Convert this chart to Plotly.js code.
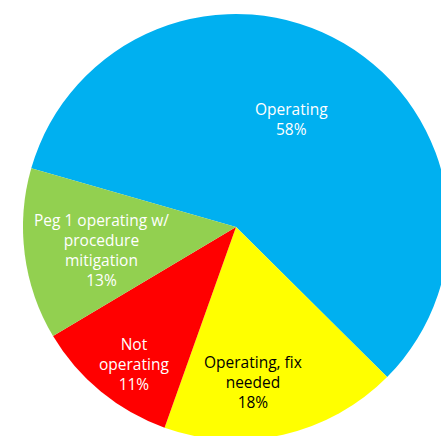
<!DOCTYPE html>
<html>
<head>
<meta charset="utf-8">
<script src="https://cdn.plot.ly/plotly-3.0.1.min.js"></script>
<style>
html,body{margin:0;padding:0;overflow:hidden;background:#fff;}
#chart{width:449px;height:440px;}
</style>
</head>
<body>
<div id="chart"></div>
<script>
const labels = ["Operating", "Operating, fix needed", "Not operating", "Peg 1 operating w/ procedure mitigation"];
const displayLabels = ["Operating", "Operating, fix<br>needed", "Not<br>operating", "Peg 1 operating w/<br>procedure<br>mitigation"];
const values = [58, 18, 11, 13];
const colors = ["#00B0F0", "#FFFF00", "#FF0000", "#92D050"];
const textColors = ["#FFFFFF", "#000000", "#FFFFFF", "#FFFFFF"];

// label placement (style): radial fraction and angular nudge in degrees
const labelRadius = [0.571, 0.73, 0.80, 0.64];
const labelNudge = [3.0, -6.5, 2.7, 2.3];

const rotation = -74;
const total = values.reduce((a, b) => a + b, 0);

const trace = {
  type: "pie",
  labels: labels,
  values: values,
  sort: false,
  direction: "clockwise",
  rotation: rotation,
  marker: {colors: colors, line: {width: 0}},
  textinfo: "none",
  hoverinfo: "none",
  showlegend: false
};

// annotations placed at slice mid-angles derived from the data
const annotations = [];
let startAngle = 90 - rotation; // math angle (deg, counter-clockwise from +x)
values.forEach((v, i) => {
  const span = v / total * 360;
  const mid = startAngle - span / 2 + labelNudge[i];
  const rad = mid * Math.PI / 180;
  const r = 0.5 * labelRadius[i];
  annotations.push({
    xref: "paper", yref: "paper",
    x: 0.5 + r * Math.cos(rad),
    y: 0.5 + r * Math.sin(rad),
    xanchor: "center", yanchor: "middle",
    text: displayLabels[i] + "<br>" + Math.round(v / total * 100) + "%",
    showarrow: false,
    align: "center",
    font: {family: "Open Sans, sans-serif", size: 15.5, color: textColors[i]}
  });
  startAngle -= span;
});

const layout = {
  width: 449, height: 440,
  margin: {l: 23, r: 0, t: 14, b: 0, pad: 0},
  paper_bgcolor: "#FFFFFF",
  showlegend: false,
  annotations: annotations
};

Plotly.newPlot("chart", [trace], layout, {displayModeBar: false, staticPlot: true});
</script>
</body>
</html>
